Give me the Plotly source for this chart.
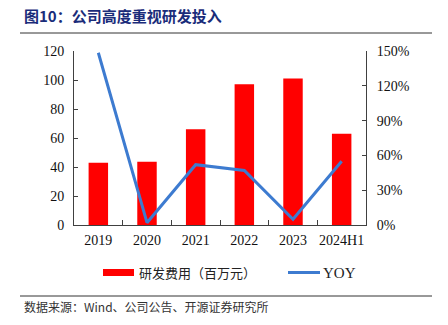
import plotly.graph_objects as go

categories = ["2019", "2020", "2021", "2022", "2023", "2024H1"]
rd_expense = [43, 43.7, 66, 97, 101, 63]
yoy = [148.5, 2, 52, 47, 5, 55]
left_ticks = [0, 20, 40, 60, 80, 100, 120]
right_ticks = [0, 30, 60, 90, 120, 150]

serif = "Liberation Serif, Times New Roman, serif"
cjk = "Noto Sans CJK SC"
W, H = 448, 325

fig = go.Figure()
fig.add_trace(go.Bar(
    x=categories, y=rd_expense, name="研发费用（百万元）",
    marker=dict(color="#FF0000", line=dict(width=0)), width=0.4, yaxis="y",
))
fig.add_trace(go.Scatter(
    x=categories, y=yoy, name="YOY", mode="lines",
    line=dict(color="#3D7BD0", width=3), yaxis="y2",
))

axis_col = "#404040"
tf = dict(family=serif, size=14, color="#111")
fig.update_layout(
    width=W, height=H,
    margin=dict(l=0, r=0, t=0, b=0, autoexpand=False),
    paper_bgcolor="white", plot_bgcolor="white",
    showlegend=False,
    xaxis=dict(domain=[74/W, 366/W], showline=True, linecolor=axis_col, linewidth=1,
               ticks="inside", ticklen=5, tickcolor=axis_col, tickson="boundaries",
               tickangle=0, automargin=False, tickfont=tf, showgrid=False,
               ticklabelstandoff=2),
    yaxis=dict(domain=[1-225/H, 1-51/H], range=[0, 120], tickvals=left_ticks,
               showline=True, linecolor=axis_col, linewidth=1, ticks="inside", ticklen=4,
               tickcolor=axis_col, showgrid=False, zeroline=False, automargin=False,
               tickfont=tf, ticklabelstandoff=6),
    yaxis2=dict(overlaying="y", side="right", range=[0, 150], tickvals=right_ticks,
                ticktext=[f"{v}%" for v in right_ticks], showline=True, linecolor=axis_col,
                linewidth=1, ticks="inside", ticklen=4, tickcolor=axis_col, showgrid=False,
                zeroline=False, automargin=False, tickfont=tf, ticklabelstandoff=7),
)

def px(x):
    return x / W

def py(y):
    return 1 - y / H

# Title and source
fig.add_annotation(text="<b>图10：公司高度重视研发投入</b>", xref="paper", yref="paper",
                   x=px(22), y=py(15), xanchor="left", yanchor="middle", showarrow=False,
                   font=dict(family=cjk, size=15, color="#1A2C7A"))
fig.add_annotation(text="数据来源：Wind、公司公告、开源证券研究所", xref="paper", yref="paper",
                   x=px(22), y=py(306), xanchor="left", yanchor="middle", showarrow=False,
                   font=dict(family=cjk + ", " + serif, size=12, color="#333"))
fig.add_shape(type="line", xref="paper", yref="paper", x0=px(20), x1=px(432),
              y0=py(33), y1=py(33), line=dict(color="#333", width=1))
fig.add_shape(type="line", xref="paper", yref="paper", x0=px(20), x1=px(432),
              y0=py(296), y1=py(296), line=dict(color="#333", width=1))

# Legend (drawn manually)
fig.add_shape(type="rect", xref="paper", yref="paper", x0=px(103), x1=px(134),
              y0=py(276), y1=py(269), fillcolor="#FF0000", line=dict(width=0))
fig.add_annotation(text="研发费用（百万元）", xref="paper", yref="paper",
                   x=px(137), y=py(272.5), xanchor="left", yanchor="middle", showarrow=False,
                   font=dict(family=cjk, size=13, color="#222"))
fig.add_shape(type="line", xref="paper", yref="paper", x0=px(288), x1=px(320),
              y0=py(272.5), y1=py(272.5), line=dict(color="#3D7BD0", width=3))
fig.add_annotation(text="YOY", xref="paper", yref="paper",
                   x=px(321), y=py(272.5), xanchor="left", yanchor="middle", showarrow=False,
                   font=dict(family=serif, size=15, color="#222"))

fig.write_html("out.html")
